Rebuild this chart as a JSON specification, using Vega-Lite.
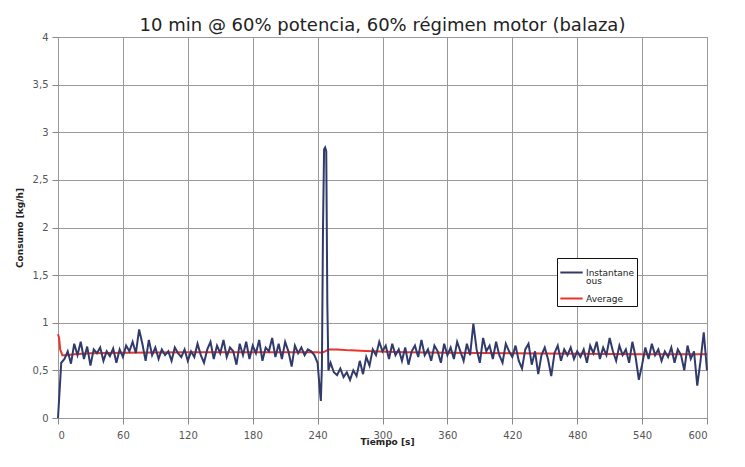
{
  "$schema": "https://vega.github.io/schema/vega-lite/v6.json",
  "width": 649,
  "height": 381,
  "autosize": "none",
  "padding": {"left": 58, "top": 37, "right": 38, "bottom": 49},
  "background": "white",
  "title": {"text": "10 min @ 60% potencia, 60% régimen motor (balaza)", "font": "DejaVu Sans", "fontSize": 18, "fontWeight": "normal", "color": "#222", "offset": -3, "anchor": "middle"},
  "config": {
    "view": {"stroke": "#888", "strokeWidth": 1},
    "axis": {"gridColor": "#9a9a9a", "gridOpacity": 1, "gridWidth": 1, "domain": false, "tickColor": "#888", "tickSize": 6, "labelColor": "#555", "labelFont": "DejaVu Sans", "labelFontSize": 10, "titleFont": "DejaVu Sans", "titleFontWeight": "bold", "titleFontSize": 9, "titleColor": "#222"}
  },
  "datasets": {
    "inst": [
      {"t":0,"v":0.0},{"t":3,"v":0.58},{"t":6,"v":0.62},{"t":9,"v":0.7},{"t":12,"v":0.57},{"t":15,"v":0.78},{"t":18,"v":0.66},{"t":21,"v":0.8},{"t":24,"v":0.62},{"t":27,"v":0.75},
      {"t":30,"v":0.55},{"t":33,"v":0.72},{"t":36,"v":0.68},{"t":39,"v":0.74},{"t":42,"v":0.6},{"t":45,"v":0.7},{"t":48,"v":0.65},{"t":51,"v":0.73},{"t":54,"v":0.58},{"t":57,"v":0.72},
      {"t":60,"v":0.64},{"t":63,"v":0.76},{"t":66,"v":0.7},{"t":69,"v":0.8},{"t":72,"v":0.68},{"t":75,"v":0.93},{"t":78,"v":0.78},{"t":81,"v":0.6},{"t":84,"v":0.82},{"t":87,"v":0.66},
      {"t":90,"v":0.74},{"t":93,"v":0.62},{"t":96,"v":0.72},{"t":99,"v":0.66},{"t":102,"v":0.7},{"t":105,"v":0.6},{"t":108,"v":0.74},{"t":111,"v":0.68},{"t":114,"v":0.64},{"t":117,"v":0.72},
      {"t":120,"v":0.6},{"t":123,"v":0.7},{"t":126,"v":0.64},{"t":129,"v":0.78},{"t":132,"v":0.66},{"t":135,"v":0.58},{"t":138,"v":0.72},{"t":141,"v":0.8},{"t":144,"v":0.62},{"t":147,"v":0.76},
      {"t":150,"v":0.68},{"t":153,"v":0.82},{"t":156,"v":0.64},{"t":159,"v":0.74},{"t":162,"v":0.7},{"t":165,"v":0.56},{"t":168,"v":0.78},{"t":171,"v":0.66},{"t":174,"v":0.8},{"t":177,"v":0.62},
      {"t":180,"v":0.76},{"t":183,"v":0.68},{"t":186,"v":0.82},{"t":189,"v":0.6},{"t":192,"v":0.74},{"t":195,"v":0.7},{"t":198,"v":0.84},{"t":201,"v":0.64},{"t":204,"v":0.78},{"t":207,"v":0.62},
      {"t":210,"v":0.8},{"t":213,"v":0.7},{"t":216,"v":0.54},{"t":219,"v":0.76},{"t":222,"v":0.68},{"t":225,"v":0.74},{"t":228,"v":0.66},{"t":231,"v":0.72},{"t":234,"v":0.7},{"t":237,"v":0.66},
      {"t":240,"v":0.58},{"t":242,"v":0.3},{"t":243,"v":0.18},{"t":244,"v":0.55},{"t":245,"v":2.0},{"t":246,"v":2.82},{"t":247,"v":2.84},{"t":248,"v":2.8},{"t":249,"v":1.2},{"t":250,"v":0.5},
      {"t":252,"v":0.58},{"t":255,"v":0.48},{"t":258,"v":0.45},{"t":261,"v":0.52},{"t":264,"v":0.43},{"t":267,"v":0.48},{"t":270,"v":0.4},{"t":273,"v":0.5},{"t":276,"v":0.44},{"t":279,"v":0.6},
      {"t":282,"v":0.46},{"t":285,"v":0.64},{"t":288,"v":0.55},{"t":291,"v":0.72},{"t":294,"v":0.66},{"t":297,"v":0.8},{"t":300,"v":0.7},{"t":303,"v":0.76},{"t":306,"v":0.62},{"t":309,"v":0.78},
      {"t":312,"v":0.66},{"t":315,"v":0.72},{"t":318,"v":0.6},{"t":321,"v":0.74},{"t":324,"v":0.56},{"t":327,"v":0.7},{"t":330,"v":0.76},{"t":333,"v":0.64},{"t":336,"v":0.82},{"t":339,"v":0.66},
      {"t":342,"v":0.72},{"t":345,"v":0.6},{"t":348,"v":0.76},{"t":351,"v":0.7},{"t":354,"v":0.58},{"t":357,"v":0.78},{"t":360,"v":0.66},{"t":363,"v":0.74},{"t":366,"v":0.62},{"t":369,"v":0.8},
      {"t":372,"v":0.7},{"t":375,"v":0.6},{"t":378,"v":0.78},{"t":381,"v":0.66},{"t":384,"v":0.99},{"t":387,"v":0.72},{"t":390,"v":0.58},{"t":393,"v":0.84},{"t":396,"v":0.7},{"t":399,"v":0.76},
      {"t":402,"v":0.62},{"t":405,"v":0.8},{"t":408,"v":0.66},{"t":411,"v":0.58},{"t":414,"v":0.78},{"t":417,"v":0.7},{"t":420,"v":0.64},{"t":423,"v":0.76},{"t":426,"v":0.6},{"t":429,"v":0.52},
      {"t":432,"v":0.72},{"t":435,"v":0.78},{"t":438,"v":0.56},{"t":441,"v":0.7},{"t":444,"v":0.46},{"t":447,"v":0.66},{"t":450,"v":0.74},{"t":453,"v":0.62},{"t":456,"v":0.44},{"t":459,"v":0.68},
      {"t":462,"v":0.76},{"t":465,"v":0.6},{"t":468,"v":0.72},{"t":471,"v":0.66},{"t":474,"v":0.74},{"t":477,"v":0.62},{"t":480,"v":0.7},{"t":483,"v":0.64},{"t":486,"v":0.72},{"t":489,"v":0.58},
      {"t":492,"v":0.76},{"t":495,"v":0.68},{"t":498,"v":0.8},{"t":501,"v":0.62},{"t":504,"v":0.74},{"t":507,"v":0.66},{"t":510,"v":0.84},{"t":513,"v":0.7},{"t":516,"v":0.6},{"t":519,"v":0.76},
      {"t":522,"v":0.66},{"t":525,"v":0.72},{"t":528,"v":0.58},{"t":531,"v":0.8},{"t":534,"v":0.64},{"t":537,"v":0.4},{"t":540,"v":0.56},{"t":543,"v":0.74},{"t":546,"v":0.62},{"t":549,"v":0.78},
      {"t":552,"v":0.66},{"t":555,"v":0.72},{"t":558,"v":0.6},{"t":561,"v":0.7},{"t":564,"v":0.64},{"t":567,"v":0.74},{"t":570,"v":0.58},{"t":573,"v":0.72},{"t":576,"v":0.66},{"t":579,"v":0.5},
      {"t":582,"v":0.76},{"t":585,"v":0.62},{"t":588,"v":0.7},{"t":591,"v":0.34},{"t":594,"v":0.6},{"t":597,"v":0.9},{"t":600,"v":0.5}
    ],
    "avg": [
      {"t":0,"v":0.88},{"t":1,"v":0.84},{"t":2,"v":0.72},{"t":4,"v":0.66},{"t":8,"v":0.66},{"t":15,"v":0.67},{"t":30,"v":0.68},{"t":60,"v":0.685},{"t":120,"v":0.69},{"t":180,"v":0.69},
      {"t":240,"v":0.69},{"t":244,"v":0.685},{"t":247,"v":0.7},{"t":250,"v":0.72},{"t":258,"v":0.72},{"t":270,"v":0.71},{"t":290,"v":0.7},{"t":320,"v":0.69},{"t":360,"v":0.685},{"t":420,"v":0.68},
      {"t":480,"v":0.675},{"t":540,"v":0.67},{"t":600,"v":0.67}
    ]
  },
  "layer": [
    {
      "data": {"name": "avg"},
      "transform": [{"calculate": "'Average'", "as": "serie"}],
      "mark": {"type": "line", "strokeWidth": 2},
      "encoding": {
        "x": {"field": "t", "type": "quantitative", "scale": {"domain": [0, 600], "nice": false}, "axis": {"values": [0,60,120,180,240,300,360,420,480,540,600], "title": "Tiempo [s]", "titleX": 329, "titleY": 19, "labelPadding": 6}},
        "y": {"field": "v", "type": "quantitative", "scale": {"domain": [0, 4], "nice": false}, "axis": {"values": [0,0.5,1,1.5,2,2.5,3,3.5,4], "labelExpr": "replace(format(datum.value, '~g'), '.', ',')", "title": "Consumo [kg/h]", "titlePadding": 8, "labelPadding": 4}},
        "color": {"field": "serie", "type": "nominal", "scale": {"domain": ["Instantaneous", "Average"], "range": ["#323a6b", "#e8342a"]},
          "legend": {"title": null, "orient": "none", "legendX": 499, "legendY": 221, "symbolType": "stroke", "symbolStrokeWidth": 2, "symbolSize": 500, "labelFont": "DejaVu Sans", "labelFontSize": 9, "labelColor": "#222", "strokeColor": "#111", "fillColor": "white", "padding": 2, "rowPadding": 0, "labelOffset": 2, "labelExpr": "datum.label == 'Instantaneous' ? ['Instantane', 'ous'] : datum.label",
            "encode": {"labels": {"update": {"lineHeight": {"value": 8}}}}}}
      }
    },
    {
      "data": {"name": "inst"},
      "transform": [{"calculate": "'Instantaneous'", "as": "serie"}],
      "mark": {"type": "line", "strokeWidth": 2},
      "encoding": {
        "x": {"field": "t", "type": "quantitative"},
        "y": {"field": "v", "type": "quantitative"},
        "color": {"field": "serie", "type": "nominal"}
      }
    }
  ]
}
